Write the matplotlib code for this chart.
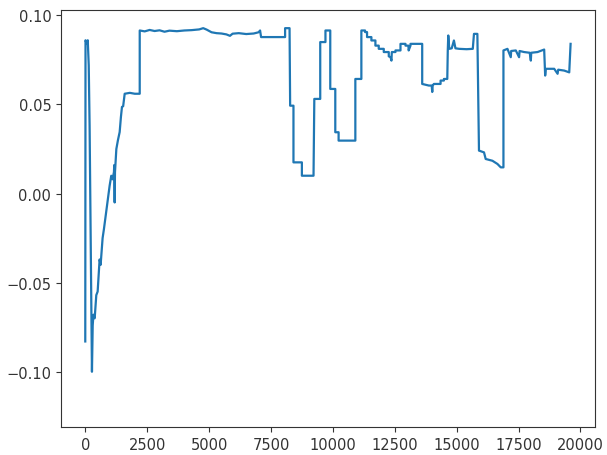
import numpy as np
import matplotlib
matplotlib.use("Agg")
import matplotlib.pyplot as plt

# =========================
# Data
# =========================
steps = [0, 10, 60, 100, 140, 175, 218, 230, 270, 300,
         330, 380, 445, 500, 579, 620, 700, 753, 810, 915,
         984, 1050, 1100, 1158, 1170, 1187, 1200, 1255, 1320, 1389,
         1440, 1482, 1530, 1592, 1800, 2000, 2199, 2199, 2400, 2600,
         2800, 3000, 3200, 3400, 3700, 4000, 4300, 4600, 4763, 4900,
         5100, 5300, 5500, 5700, 5843, 5950, 6200, 6500, 6800, 7000,
         7060, 7100, 8070, 8070, 8250, 8274, 8408, 8408, 8748, 8748,
         9218, 9250, 9489, 9489, 9700, 9700, 9894, 9894, 10097, 10097,
         10231, 10231, 10907, 10907, 11150, 11150, 11300, 11300, 11380, 11380,
         11555, 11555, 11717, 11717, 11852, 11852, 12055, 12055, 12257, 12257,
         12330, 12365, 12380, 12527, 12527, 12730, 12730, 12932, 12932, 13050,
         13060, 13134, 13134, 13607, 13607, 13876, 13990, 14013, 14030, 14079,
         14349, 14349, 14483, 14483, 14620, 14640, 14660, 14700, 14800, 14888,
         14950, 15100, 15400, 15650, 15698, 15835, 15900, 16103, 16171, 16443,
         16646, 16780, 16888, 16888, 17050, 17184, 17200, 17387, 17520, 17540,
         17722, 17950, 17994, 18010, 18265, 18533, 18573, 18600, 18938, 19075,
         19100, 19342, 19545, 19600]

values = [-0.083, 0.086, 0.084, 0.086, 0.072, 0.038, -0.022, -0.037, -0.100, -0.074,
          -0.068, -0.070, -0.057, -0.055, -0.037, -0.040, -0.025, -0.020, -0.014, -0.003,
          0.0044, 0.010, 0.008, 0.012, 0.016, -0.005, 0.012, 0.025, 0.030, 0.0345,
          0.043, 0.0486, 0.049, 0.056, 0.0565, 0.056, 0.056, 0.0915, 0.0910, 0.0918,
          0.0912, 0.0916, 0.0908, 0.0914, 0.0911, 0.0915, 0.0917, 0.0921, 0.0928, 0.0920,
          0.0905, 0.0900, 0.0898, 0.0893, 0.0885, 0.0897, 0.0900, 0.0895, 0.0898, 0.0905,
          0.0915, 0.0878, 0.0878, 0.0928, 0.0928, 0.0493, 0.0493, 0.0175, 0.0175, 0.0100,
          0.0100, 0.0531, 0.0531, 0.085, 0.085, 0.0915, 0.0915, 0.0587, 0.0587, 0.0344,
          0.0344, 0.0297, 0.0297, 0.0643, 0.0643, 0.0915, 0.0915, 0.0906, 0.0906, 0.0878,
          0.0878, 0.0859, 0.0859, 0.0830, 0.0830, 0.0812, 0.0812, 0.0794, 0.0794, 0.0770,
          0.0765, 0.0746, 0.0794, 0.0794, 0.0803, 0.0803, 0.0840, 0.0840, 0.0830, 0.0830,
          0.0803, 0.0830, 0.0840, 0.0840, 0.0615, 0.0606, 0.0606, 0.0570, 0.0606, 0.0615,
          0.0615, 0.0634, 0.0634, 0.0643, 0.0643, 0.0803, 0.0887, 0.0812, 0.0815, 0.0859,
          0.0815, 0.0812, 0.0810, 0.0812, 0.0896, 0.0896, 0.0241, 0.0231, 0.0194, 0.0184,
          0.0166, 0.0147, 0.0147, 0.0803, 0.0812, 0.0765, 0.0800, 0.0803, 0.0765, 0.0800,
          0.0794, 0.0790, 0.0746, 0.0790, 0.0794, 0.0808, 0.0662, 0.0700, 0.0700, 0.0672,
          0.0695, 0.0690, 0.0680, 0.0840]

x_ticks = [0, 2500, 5000, 7500, 10000, 12500, 15000, 17500, 20000]
y_ticks = [-0.10, -0.05, 0.00, 0.05, 0.10]

# =========================
# Plot
# =========================
ink = "#333333"
plt.rcParams["font.size"] = 10.5

fig = plt.figure(figsize=(6.07, 4.56), dpi=100)
ax = fig.add_axes([0.1005, 0.0614, 0.8795, 0.9145])

ax.plot(steps, values, color="#1f77b4", lw=1.6)

ax.set_xlim(-980, 20580)
ax.set_ylim(-0.131, 0.103)
ax.set_xticks(x_ticks)
ax.set_yticks(y_ticks)
ax.set_yticklabels([f"{v:.2f}".replace("-", "\u2212") for v in y_ticks])

for s in ax.spines.values():
    s.set_color(ink)
ax.tick_params(colors=ink, labelcolor=ink)

fig.savefig("out.png", dpi=100)
